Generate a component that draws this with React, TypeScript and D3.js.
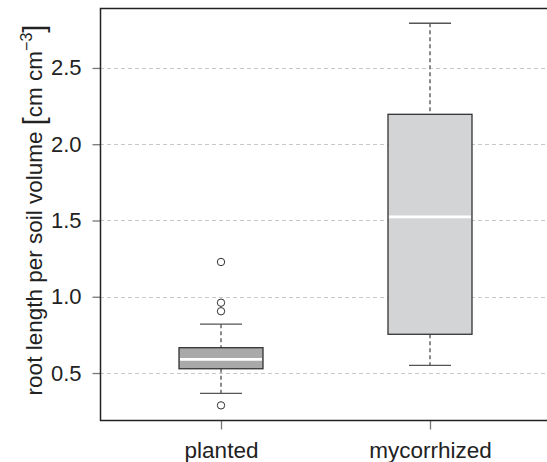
import { useEffect, useRef } from "react";
import * as d3 from "d3";

// categories and five-number summaries
const groups = ["planted", "mycorrhized"];
const whiskerLow = [0.367, 0.55];
const boxLow = [0.528, 0.754];
const medians = [0.59, 1.523];
const boxHigh = [0.666, 2.196];
const whiskerHigh = [0.82, 2.793];
const outliers = [[1.228, 0.961, 0.905, 0.288], []];
const fills = ["#a9a9aa", "#d3d4d5"];
const yTicks = [0.5, 1.0, 1.5, 2.0, 2.5];

const App = () => {
  const svgRef = useRef<SVGSVGElement | null>(null);
  const width = 547;
  const height = 462;
  const margin = { top: 8, right: 0, bottom: 42, left: 100 };

  useEffect(() => {
    const svg = d3.select(svgRef.current);
    svg.selectAll("*").remove();

    const y = d3
      .scaleLinear()
      .domain([0.192, 2.893])
      .range([height - margin.bottom, margin.top]);

    const x = d3
      .scalePoint()
      .domain(groups)
      .range([221, 430]);

    const boxHalf = 42;
    const capHalf = 21;
    const font = "Liberation Sans, Arial, sans-serif";

    // grid
    svg
      .append("g")
      .selectAll("line")
      .data(yTicks)
      .enter()
      .append("line")
      .attr("x1", margin.left)
      .attr("x2", width)
      .attr("y1", (d) => Math.round(y(d)) + 0.5)
      .attr("y2", (d) => Math.round(y(d)) + 0.5)
      .attr("stroke", "#c8c8c8")
      .attr("stroke-dasharray", "4,3");

    const data = groups.map((g, i) => ({
      g,
      wl: whiskerLow[i],
      bl: boxLow[i],
      md: medians[i],
      bh: boxHigh[i],
      wh: whiskerHigh[i],
      out: outliers[i],
      fill: fills[i],
    }));

    const box = svg.append("g").selectAll("g").data(data).enter().append("g");

    // whiskers
    box
      .append("line")
      .attr("x1", (d) => x(d.g)!)
      .attr("x2", (d) => x(d.g)!)
      .attr("y1", (d) => y(d.wh))
      .attr("y2", (d) => y(d.bh))
      .attr("stroke", "#666")
      .attr("stroke-width", 1.5)
      .attr("stroke-dasharray", "4,3");
    box
      .append("line")
      .attr("x1", (d) => x(d.g)!)
      .attr("x2", (d) => x(d.g)!)
      .attr("y1", (d) => y(d.bl))
      .attr("y2", (d) => y(d.wl))
      .attr("stroke", "#666")
      .attr("stroke-width", 1.5)
      .attr("stroke-dasharray", "4,3");
    box
      .selectAll(".cap")
      .data((d) => [
        { g: d.g, v: d.wh },
        { g: d.g, v: d.wl },
      ])
      .enter()
      .append("line")
      .attr("x1", (d) => x(d.g)! - capHalf)
      .attr("x2", (d) => x(d.g)! + capHalf)
      .attr("y1", (d) => y(d.v))
      .attr("y2", (d) => y(d.v))
      .attr("stroke", "#555")
      .attr("stroke-width", 1.3);

    // boxes
    box
      .append("rect")
      .attr("x", (d) => x(d.g)! - boxHalf)
      .attr("width", boxHalf * 2)
      .attr("y", (d) => y(d.bh))
      .attr("height", (d) => y(d.bl) - y(d.bh))
      .attr("fill", (d) => d.fill)
      .attr("stroke", "#333")
      .attr("stroke-width", 1.3);

    // medians
    box
      .append("line")
      .attr("x1", (d) => x(d.g)! - boxHalf + 1)
      .attr("x2", (d) => x(d.g)! + boxHalf - 1)
      .attr("y1", (d) => y(d.md))
      .attr("y2", (d) => y(d.md))
      .attr("stroke", "#fff")
      .attr("stroke-width", 2.8);

    // outliers
    box
      .selectAll("circle")
      .data((d) => d.out.map((v) => ({ g: d.g, v })))
      .enter()
      .append("circle")
      .attr("cx", (d) => x(d.g)!)
      .attr("cy", (d) => y(d.v))
      .attr("r", 3.7)
      .attr("fill", "#fff")
      .attr("stroke", "#333")
      .attr("stroke-width", 1);

    // y axis
    const yAxis = svg
      .append("g")
      .attr("transform", `translate(${margin.left + 0.5},0)`)
      .call(
        d3
          .axisLeft(y)
          .tickValues(yTicks)
          .tickFormat(d3.format(".1f"))
          .tickSize(8)
          .tickPadding(11)
      );
    yAxis.select(".domain").remove();
    yAxis.selectAll(".tick line").attr("stroke", "#777").attr("stroke-width", 1.3);
    yAxis
      .selectAll(".tick text")
      .attr("fill", "#222")
      .attr("font-size", 22)
      .attr("font-family", font);

    // x axis
    const xAxis = svg
      .append("g")
      .attr("transform", `translate(0,${height - margin.bottom + 0.5})`)
      .call(d3.axisBottom(x).tickSize(9).tickPadding(13));
    xAxis.select(".domain").remove();
    xAxis.selectAll(".tick line").attr("stroke", "#777").attr("stroke-width", 1.3);
    xAxis
      .selectAll(".tick text")
      .attr("fill", "#222")
      .attr("font-size", 22.5)
      .attr("font-family", font);

    // frame: left, top, bottom
    svg
      .append("path")
      .attr(
        "d",
        `M${width},${margin.top + 0.5}H${margin.left + 0.5}V${height - margin.bottom + 0.5}H${width}`
      )
      .attr("fill", "none")
      .attr("stroke", "#222")
      .attr("stroke-width", 1.5);

    // y title
    const title = svg
      .append("text")
      .attr("transform", `translate(42,210) rotate(-90)`)
      .attr("text-anchor", "middle")
      .attr("fill", "#222")
      .attr("font-size", 22.5)
      .attr("font-family", font);
    title.append("tspan").text("root length per soil volume ");
    title.append("tspan").attr("font-size", 29).attr("dy", 2).text("[");
    title.append("tspan").attr("dy", -2).text("cm cm");
    title.append("tspan").attr("font-size", 16).attr("dy", -10).text("−3");
    title.append("tspan").attr("font-size", 29).attr("dy", 12).text("]");
  }, []);

  return (
    <svg
      ref={svgRef}
      width={width}
      height={height}
      style={{ position: "absolute", left: 0, top: 0, background: "#fff" }}
    />
  );
};

export default App;
